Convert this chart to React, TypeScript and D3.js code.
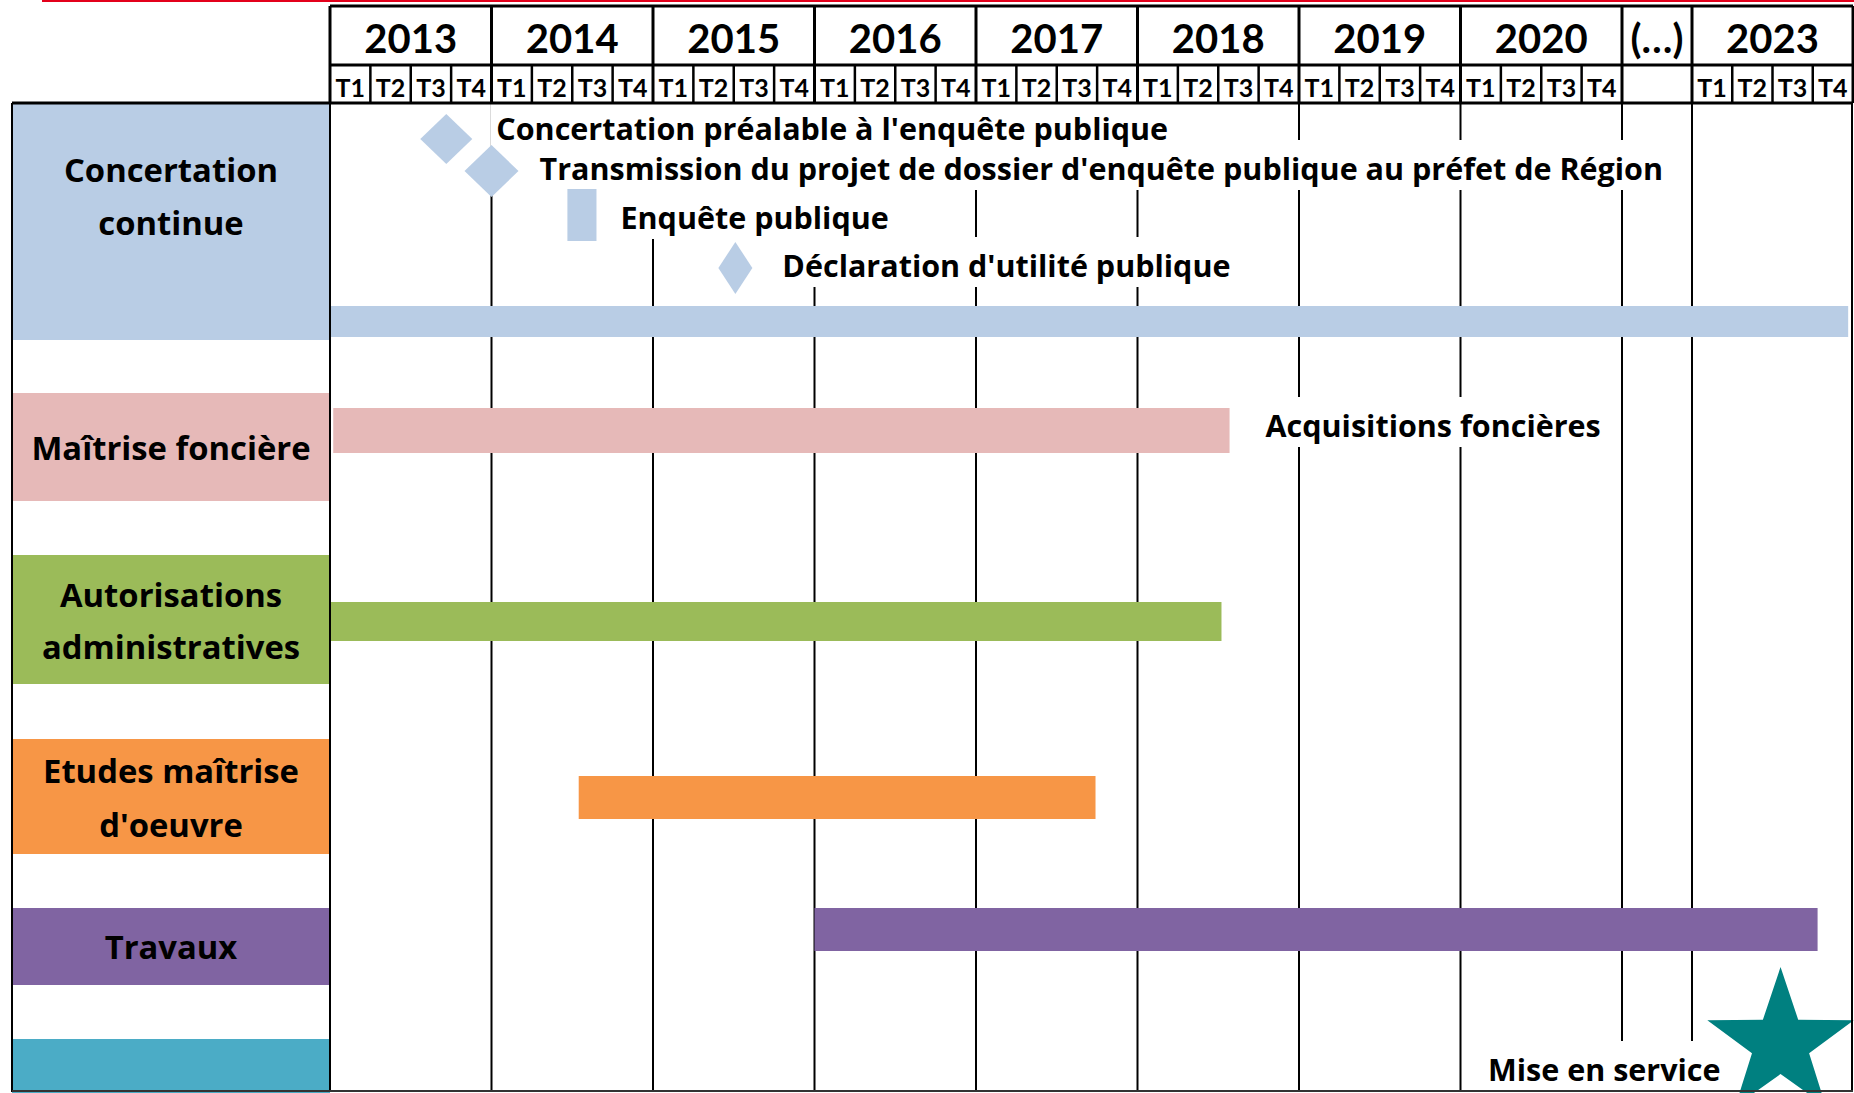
import React from 'react';
import * as d3 from 'd3';

// ---------- DATA ----------
const yearLabels = ['2013', '2014', '2015', '2016', '2017', '2018', '2019', '2020', '(…)', '2023'];
const yearStarts = [2013, 2014, 2015, 2016, 2017, 2018, 2019, 2020, 2021, 2023];
const yearEnds = [2014, 2015, 2016, 2017, 2018, 2019, 2020, 2021, 2023, 2024];
const yearHasQuarters = [true, true, true, true, true, true, true, true, false, true];
const quarterLabels = ['T1', 'T2', 'T3', 'T4'];

const phaseLabelLines = [
  ['Concertation', 'continue'],
  ['Maîtrise foncière'],
  ['Autorisations', 'administratives'],
  ['Etudes maîtrise', "d'oeuvre"],
  ['Travaux'],
  [],
];
const phaseColors = ['#B9CDE5', '#E6B9B8', '#9BBB59', '#F79646', '#8064A2', '#4BACC6'];
const phaseStart = [2013.0, 2013.02, 2013.0, 2014.54, 2016.0, null];
const phaseEnd = [2023.97, 2018.57, 2018.52, 2017.74, 2023.78, null];
const phaseBarLabel = ['', 'Acquisitions foncières', '', '', '', ''];

const milestoneNames = [
  "Concertation préalable à l'enquête publique",
  "Transmission du projet de dossier d'enquête publique au préfet de Région",
  'Enquête publique',
  "Déclaration d'utilité publique",
  'Mise en service',
];
const milestoneStart = [2013.72, 2014.0, 2014.47, 2015.51, 2023.55];
const milestoneEnd = [null, null, 2014.65, null, null];
const milestoneShape = ['diamond', 'diamond', 'rect', 'diamond', 'star'];

// ---------- LAYOUT ----------
const W = 1854;
const H = 1093;
const LEFT = 12;
const X0 = 330;
const X1 = 1853;
const HEAD_TOP = 6;
const HEAD_MID = 65;
const HEAD_BOT = 103;
const MAIN_BOT = 1091;

const rowBox = [[104, 340], [393, 501], [555, 684], [739, 854], [908, 985], [1039, 1093]];
const rowBar = [[306, 337], [408, 453], [602, 641], [776, 819], [908, 951], null];
const rowLabelBase = [[182, 235], [460], [607, 659], [783, 837], [959], []];

const msLayout = [
  { cy: 139, hw: 26, hh: 25, base: 140, dx: 50, anchor: 'start' },
  { cy: 171, hw: 27, hh: 26, base: 180, dx: 48, anchor: 'start' },
  { y0: 189, y1: 241, base: 229, dx: 24, anchor: 'start' },
  { cy: 268, hw: 17, hh: 26, base: 277, dx: 47, anchor: 'start' },
  { cy: 1044, r: 77, base: 1081, dx: -60, anchor: 'end' },
];

const HEAD_FONT = "Lato, 'Open Sans', 'DejaVu Sans', sans-serif";
const TEXT_FONT = "'Open Sans', Lato, 'DejaVu Sans', sans-serif";
const ANN_SIZE = 30.5;
const LABEL_SIZE = 32.8;

const x = d3
  .scaleLinear()
  .domain([2013, 2021, 2023, 2024])
  .range([X0, 1622, 1692, X1]);

function starPath(cx: number, cy: number, R: number) {
  const r = R * 0.39;
  const pts: [number, number][] = d3.range(10).map((i) => {
    const a = (i * Math.PI) / 5;
    const rad = i % 2 === 0 ? R : r;
    return [cx + rad * Math.sin(a), cy - rad * Math.cos(a)];
  });
  return d3.line().curve(d3.curveLinearClosed)(pts) || '';
}

function diamondPath(cx: number, cy: number, hw: number, hh: number) {
  const pts: [number, number][] = [
    [cx, cy - hh],
    [cx + hw, cy],
    [cx, cy + hh],
    [cx - hw, cy],
  ];
  return d3.line().curve(d3.curveLinearClosed)(pts) || '';
}

export default function App() {
  const textRefs = React.useRef<(SVGTextElement | null)[]>([]);
  const [boxes, setBoxes] = React.useState<{ x: number; w: number }[]>([]);

  const annotations: { text: string; tx: number; base: number; anchor: string }[] = [];
  milestoneNames.forEach((name, i) => {
    const L = msLayout[i];
    const end = milestoneEnd[i];
    const ref = end != null ? x(end) : x(milestoneStart[i]);
    annotations.push({ text: name, tx: ref + L.dx, base: L.base, anchor: L.anchor });
  });
  phaseBarLabel.forEach((lab, i) => {
    const e = phaseEnd[i];
    if (lab && e != null) annotations.push({ text: lab, tx: x(e) + 36, base: 437, anchor: 'start' });
  });

  React.useLayoutEffect(() => {
    const measure = () => {
      const b = textRefs.current.map((el) => {
        if (!el) return { x: 0, w: 0 };
        const bb = el.getBBox();
        return { x: bb.x, w: bb.width };
      });
      setBoxes(b);
    };
    measure();
    document.body.style.margin = '0';
    if ((document as any).fonts && (document as any).fonts.ready) {
      (document as any).fonts.ready.then(measure);
    }
  }, []);

  const yearCols = yearLabels.map((lab, i) => ({
    lab,
    x0: x(yearStarts[i]),
    x1: x(yearEnds[i]),
    q: yearHasQuarters[i],
  }));

  return (
    <svg
      width={W}
      height={H}
      style={{ position: 'absolute', left: 0, top: 0, display: 'block', background: '#fff' }}
      fontFamily={TEXT_FONT}
      fontWeight={700}
    >
      <rect x={0} y={0} width={W} height={H} fill="#fff" />
      <line x1={42} x2={W} y1={1} y2={1} stroke="#E3001B" strokeWidth={2} />

      {/* left label boxes */}
      {phaseLabelLines.map((lines, i) => (
        <rect
          key={'lb' + i}
          x={LEFT}
          y={rowBox[i][0]}
          width={X0 - LEFT}
          height={rowBox[i][1] - rowBox[i][0]}
          fill={phaseColors[i]}
        />
      ))}
      {phaseLabelLines.map((lines, i) =>
        lines.map((ln, j) => (
          <text
            key={'lt' + i + '-' + j}
            x={(LEFT + X0) / 2}
            y={rowLabelBase[i][j]}
            textAnchor="middle"
            fontSize={LABEL_SIZE}
            fill="#000"
          >
            {ln}
          </text>
        ))
      )}

      {/* main vertical grid lines (year boundaries) */}
      {yearStarts.slice(1).map((ys, i) => (
        <line
          key={'vg' + i}
          x1={x(ys)}
          x2={x(ys)}
          y1={HEAD_BOT}
          y2={MAIN_BOT}
          stroke="#000"
          strokeWidth={2}
        />
      ))}

      {/* white boxes behind annotations */}
      {annotations.map((a, i) =>
        boxes[i] ? (
          <rect
            key={'wb' + i}
            x={boxes[i].x - 6}
            y={a.base - 40}
            width={boxes[i].w + 12}
            height={50}
            fill="#fff"
          />
        ) : null
      )}

      {/* phase bars */}
      {phaseStart.map((s, i) => {
        const e = phaseEnd[i];
        const yb = rowBar[i];
        if (s == null || e == null || !yb) return null;
        return (
          <rect
            key={'bar' + i}
            x={x(s)}
            y={yb[0]}
            width={x(e) - x(s)}
            height={yb[1] - yb[0]}
            fill={phaseColors[i]}
          />
        );
      })}

      {/* milestones */}
      {milestoneStart.map((s, i) => {
        const L: any = msLayout[i];
        const shape = milestoneShape[i];
        if (shape === 'diamond')
          return <path key={'ms' + i} d={diamondPath(x(s), L.cy, L.hw, L.hh)} fill={phaseColors[0]} />;
        if (shape === 'rect') {
          const e = milestoneEnd[i] as number;
          return (
            <rect key={'ms' + i} x={x(s)} y={L.y0} width={x(e) - x(s)} height={L.y1 - L.y0} fill={phaseColors[0]} />
          );
        }
        return <path key={'ms' + i} d={starPath(x(s), L.cy, L.r)} fill="#008080" />;
      })}

      {/* annotation texts */}
      {annotations.map((a, i) => (
        <text
          key={'at' + i}
          ref={(el) => {
            textRefs.current[i] = el;
          }}
          x={a.tx}
          y={a.base}
          textAnchor={a.anchor as any}
          fontSize={ANN_SIZE}
          fill="#000"
        >
          {a.text}
        </text>
      ))}

      {/* header */}
      <rect x={X0} y={HEAD_TOP} width={X1 - X0} height={HEAD_BOT - HEAD_TOP} fill="#fff" />
      <g fontFamily={HEAD_FONT}>
        {yearCols.map((c, i) => (
          <g key={'yc' + i}>
            <text x={(c.x0 + c.x1) / 2} y={53} textAnchor="middle" fontSize={40} fill="#000">
              {c.lab}
            </text>
            {c.q &&
              quarterLabels.map((q, k) => {
                const qx0 = c.x0 + ((c.x1 - c.x0) * k) / 4;
                const qx1 = c.x0 + ((c.x1 - c.x0) * (k + 1)) / 4;
                return (
                  <g key={'q' + k}>
                    <text x={(qx0 + qx1) / 2} y={97} textAnchor="middle" fontSize={25} fill="#000">
                      {q}
                    </text>
                    {k > 0 && (
                      <line x1={qx0} x2={qx0} y1={HEAD_MID} y2={HEAD_BOT} stroke="#000" strokeWidth={2.5} />
                    )}
                  </g>
                );
              })}
            <line x1={c.x0} x2={c.x0} y1={HEAD_TOP} y2={HEAD_BOT} stroke="#000" strokeWidth={3} />
          </g>
        ))}
      </g>
      <line x1={X1} x2={X1} y1={HEAD_TOP} y2={HEAD_BOT} stroke="#000" strokeWidth={3} />
      <line x1={X0} x2={X1} y1={HEAD_TOP} y2={HEAD_TOP} stroke="#000" strokeWidth={3} />
      <line x1={X0} x2={X1} y1={HEAD_MID} y2={HEAD_MID} stroke="#000" strokeWidth={3} />

      {/* frame of the main area */}
      <line x1={LEFT} x2={X1} y1={HEAD_BOT} y2={HEAD_BOT} stroke="#000" strokeWidth={3} />
      <line x1={LEFT} x2={LEFT} y1={HEAD_BOT} y2={MAIN_BOT + 1} stroke="#000" strokeWidth={2} />
      <line x1={X0} x2={X0} y1={HEAD_BOT} y2={MAIN_BOT + 1} stroke="#000" strokeWidth={2} />
      <line x1={X1 - 1} x2={X1 - 1} y1={HEAD_BOT} y2={MAIN_BOT + 1} stroke="#000" strokeWidth={2} />
      <line x1={LEFT} x2={X1} y1={MAIN_BOT} y2={MAIN_BOT} stroke="#333" strokeWidth={2} />
    </svg>
  );
}
